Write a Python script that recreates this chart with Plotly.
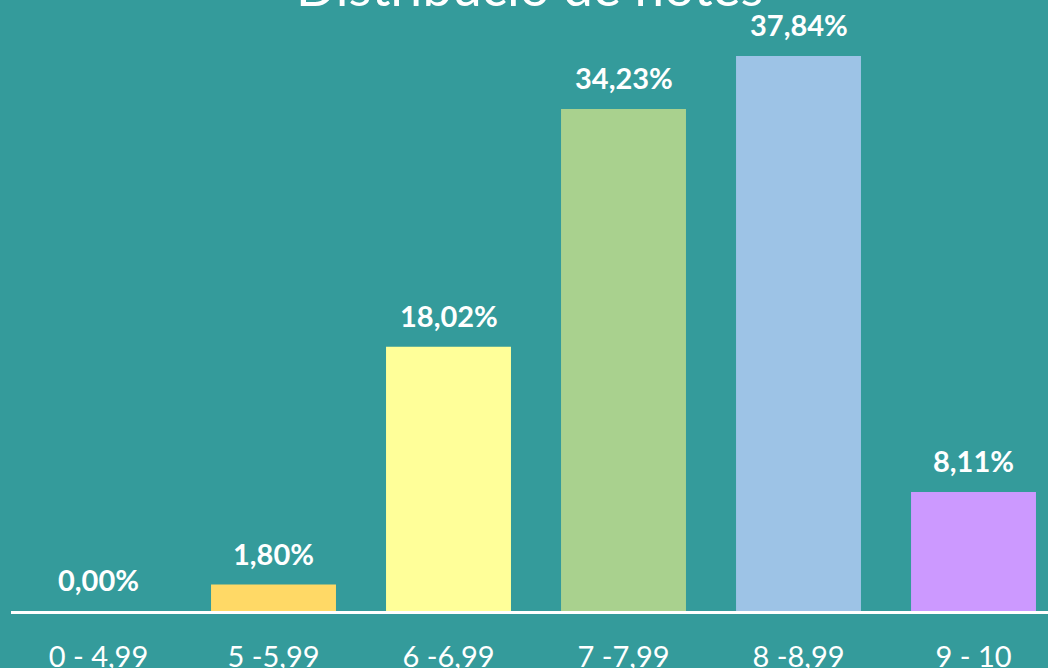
import plotly.graph_objects as go

categories = ["0 - 4,99", "5 -5,99", "6 -6,99", "7 -7,99", "8 -8,99", "9 - 10"]
values = [0.00, 1.80, 18.02, 34.23, 37.84, 8.11]
labels = ["0,00%", "1,80%", "18,02%", "34,23%", "37,84%", "8,11%"]
colors = ["#FFD966", "#FFD966", "#FFFF99", "#A9D18E", "#9DC3E6", "#CC99FF"]
title_text = "Distribució de notes"

BG = "#349B9B"
FONT = "Lato"

fig = go.Figure()
fig.add_trace(go.Bar(
    x=list(range(len(categories))), y=values,
    marker=dict(color=colors, line=dict(width=0)),
    width=0.714, hoverinfo="skip",
))

for i, (v, t) in enumerate(zip(values, labels)):
    fig.add_annotation(x=i, y=v, xref="x", yref="y", text=t, showarrow=False,
                       yanchor="bottom", yshift=12,
                       font=dict(family=FONT, size=29, color="white", weight="bold"))

fig.add_annotation(x=0.5, y=1.0, xref="paper", yref="paper", text=title_text,
                   showarrow=False, xanchor="center", yanchor="bottom", yshift=1,
                   font=dict(family=FONT, size=53, color="white"))

fig.update_layout(
    width=1048, height=668,
    paper_bgcolor=BG, plot_bgcolor=BG,
    margin=dict(l=11, r=0, t=20, b=57),
    showlegend=False,
    xaxis=dict(range=[-0.5, 5.4257], tickmode="array",
               tickvals=list(range(len(categories))), ticktext=categories,
               showline=True, linecolor="white", linewidth=3,
               showgrid=False, zeroline=False, ticks="", automargin=False,
               tickfont=dict(family=FONT, size=29, color="white"),
               ticklabelstandoff=18),
    yaxis=dict(range=[0, 40.3], visible=False, showgrid=False, zeroline=False,
               automargin=False),
)

fig.write_html("out.html", config={"displayModeBar": False},
               post_script="document.body.style.margin='0';document.body.style.background='%s';" % BG)
